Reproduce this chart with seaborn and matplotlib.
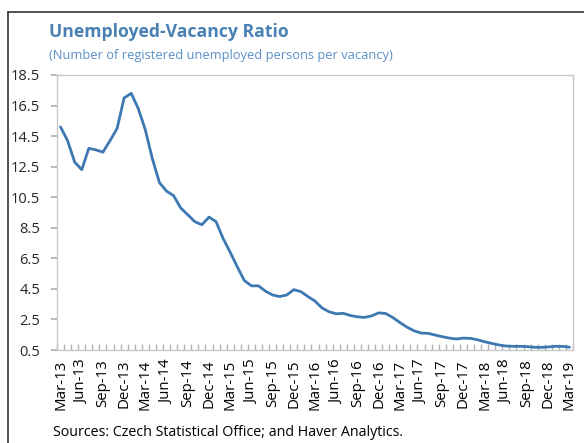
import numpy as np
import pandas as pd
import matplotlib
matplotlib.use("Agg")
import matplotlib.pyplot as plt
import seaborn as sns
from matplotlib.lines import Line2D

# monthly data, Mar-13 .. Mar-19
months = pd.date_range("2013-03-01", "2019-03-01", freq="MS")
ratio = [15.1, 14.2, 12.8, 12.3, 13.7, 13.6, 13.45, 14.2, 15.0, 17.0,
         17.3, 16.3, 14.9, 13.0, 11.45, 10.9, 10.6, 9.8, 9.35, 8.9,
         8.7, 9.2, 8.9, 7.8, 6.9, 5.95, 5.05, 4.7, 4.7, 4.35,
         4.1, 4.0, 4.1, 4.45, 4.32, 4.0, 3.7, 3.25, 3.0, 2.87,
         2.9, 2.76, 2.67, 2.63, 2.73, 2.93, 2.89, 2.63, 2.3, 2.0,
         1.76, 1.61, 1.59, 1.48, 1.37, 1.28, 1.22, 1.28, 1.26, 1.17,
         1.04, 0.93, 0.83, 0.76, 0.74, 0.74, 0.72, 0.68, 0.67, 0.7,
         0.74, 0.74, 0.68]
y_ticks = [0.5, 2.5, 4.5, 6.5, 8.5, 10.5, 12.5, 14.5, 16.5, 18.5]

df = pd.DataFrame({"idx": np.arange(len(months)), "ratio": ratio})
labels = [d.strftime("%b-%y") for d in months]

sns.set_theme(style="white")
plt.rcParams['font.family'] = ['Open Sans', 'DejaVu Sans']

fig = plt.figure(figsize=(5.84, 4.43), dpi=100)
ax = fig.add_axes([57 / 584, 1 - 350 / 443, 516 / 584, 275 / 443])

sns.lineplot(data=df, x="idx", y="ratio", ax=ax, color="#3d78b2", linewidth=2.0)

ax.set_xlim(-0.5, len(months) - 0.5)
ax.set_ylim(0.5, 18.5)
ax.set_yticks(y_ticks)
ax.set_yticklabels([f"{v:.1f}" for v in y_ticks], fontsize=10.5)
ax.set_xticks(df["idx"][::3])
ax.set_xticklabels(labels[::3], rotation=90, fontsize=10.8)
ax.set_xticks(np.arange(len(months) + 1) - 0.5, minor=True)
ax.set_xlabel("")
ax.set_ylabel("")

for s in ax.spines.values():
    s.set_color("#c8c8c8")
    s.set_linewidth(1.0)
ax.tick_params(axis="x", which="major", length=0, pad=7, colors="black")
ax.tick_params(axis="x", which="minor", direction="in", length=4, color="#b0b0b0", bottom=True)
ax.tick_params(axis="y", direction="out", length=4, color="#b0b0b0", left=True, pad=8)
ax.grid(False)

fig.text(49 / 584, 1 - 32 / 443, "Unemployed-Vacancy Ratio", fontsize=12.7,
         fontweight="bold", color="#4a80b4", va="center", ha="left")
fig.text(49 / 584, 1 - 55 / 443, "(Number of registered unemployed persons per vacancy)",
         fontsize=9.3, color="#5b8fc6", va="center", ha="left")
fig.text(53 / 584, 1 - 433 / 443, "Sources: Czech Statistical Office; and Haver Analytics.",
         fontsize=10.3, color="black", va="center", ha="left")

# outer frame (left and top edges visible)
fig.add_artist(Line2D([8 / 584, 8 / 584], [0, 1 - 12 / 443], color="#333333", lw=1.2))
fig.add_artist(Line2D([8 / 584, 1], [1 - 12 / 443, 1 - 12 / 443], color="#333333", lw=1.2))

fig.savefig("out.png", dpi=100)
